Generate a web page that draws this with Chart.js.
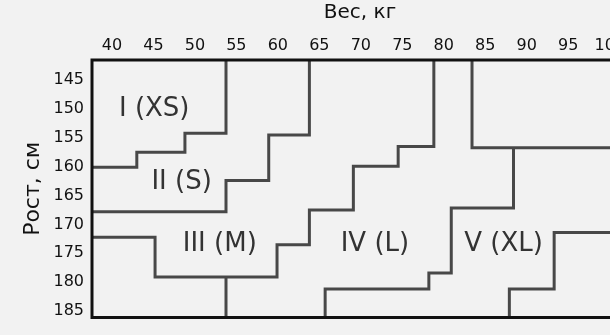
<!DOCTYPE html>
<html lang="ru">
<head>
<meta charset="utf-8">
<title>Рост и вес по размерам</title>
<script src="https://cdn.jsdelivr.net/npm/chart.js@4"></script>
<style>
  html, body { margin: 0; padding: 0; background: #f2f2f2; overflow: hidden; }
  #wrap { width: 640px; height: 335px; }
</style>
</head>
<body>
<div id="wrap"><canvas id="sizeChart" width="640" height="335"></canvas></div>
<script>
// оси: вес (кг) сверху, рост (см) слева
const weightTicks = [40, 45, 50, 55, 60, 65, 70, 75, 80, 85, 90, 95, 100];
const heightTicks = [145, 150, 155, 160, 165, 170, 175, 180, 185];
const weightRange = [37.6, 102.2];
const heightRange = [141.5, 186.1];

// граница I (XS) / II (S)
const xsS_w = [37.6, 43.0, 43.0, 48.8, 48.8, 53.75, 53.75];
const xsS_h = [160.1, 160.1, 157.5, 157.5, 154.2, 154.2, 141.5];

// граница II (S) / III (M)
const sM_w = [37.6, 53.75, 53.75, 58.9, 58.9, 63.8, 63.8];
const sM_h = [167.8, 167.8, 162.4, 162.4, 154.5, 154.5, 141.5];

// граница III (M) / IV (L)
const mL_w = [37.6, 45.2, 45.2, 59.9, 59.9, 63.8, 63.8, 69.1, 69.1, 74.5, 74.5, 78.8, 78.8];
const mL_h = [172.2, 172.2, 179.1, 179.1, 173.5, 173.5, 167.5, 167.5, 159.9, 159.9, 156.5, 156.5, 141.5];

// перегородка под III (M)
const mLow_w = [53.75, 53.75];
const mLow_h = [179.1, 186.1];

// граница IV (L) / V (XL)
const lXL_w = [65.7, 65.7, 78.2, 78.2, 80.9, 80.9, 88.4, 88.4];
const lXL_h = [186.1, 181.2, 181.2, 178.4, 178.4, 167.15, 167.15, 156.7];

// верхняя правая зона
const topRight_w = [83.4, 83.4, 102.2];
const topRight_h = [141.5, 156.7, 156.7];

// нижняя правая зона
const lowRight_w = [87.9, 87.9, 93.3, 93.3, 102.2];
const lowRight_h = [186.1, 181.2, 181.2, 171.4, 171.4];

// подписи зон
const zoneNames = ['I (XS)', 'II (S)', 'III (M)', 'IV (L)', 'V (XL)'];
const zoneWeight = [45.1, 48.4, 53.0, 71.7, 87.2];
const zoneHeight = [150.0, 162.6, 173.4, 173.5, 173.5];

Chart.defaults.font.family = '"DejaVu Sans", sans-serif';

// линия из двух массивов
function makeLine(w, h) {
    return {
        data: w.map((x, i) => ({ x: x, y: h[i] })),
        showLine: true,
        borderColor: '#484848',
        borderWidth: 3,
        pointRadius: 0,
        fill: false,
        tension: 0
    };
}

// рамка области графика: слева, сверху, снизу
const framePlugin = {
    id: 'frame',
    afterDatasetsDraw(chart) {
        const a = chart.chartArea;
        const ctx = chart.ctx;
        ctx.save();
        ctx.strokeStyle = '#111';
        ctx.lineWidth = 3;
        ctx.beginPath();
        ctx.moveTo(chart.width, a.top);
        ctx.lineTo(a.left, a.top);
        ctx.lineTo(a.left, a.bottom);
        ctx.lineTo(chart.width, a.bottom);
        ctx.stroke();
        ctx.restore();
    }
};

// подписи размеров внутри зон
const zonePlugin = {
    id: 'zones',
    afterDatasetsDraw(chart) {
        const ctx = chart.ctx;
        const xs = chart.scales.x;
        const ys = chart.scales.y;
        ctx.save();
        ctx.fillStyle = '#333';
        ctx.font = '26px "DejaVu Sans"';
        ctx.textAlign = 'center';
        ctx.textBaseline = 'middle';
        zoneNames.forEach((name, i) => {
            ctx.fillText(name, xs.getPixelForValue(zoneWeight[i]), ys.getPixelForValue(zoneHeight[i]));
        });
        ctx.restore();
    }
};

function initChart() {
    const canvas = document.getElementById('sizeChart');
    new Chart(canvas, {
        type: 'scatter',
        data: {
            datasets: [
                makeLine(xsS_w, xsS_h),
                makeLine(sM_w, sM_h),
                makeLine(mL_w, mL_h),
                makeLine(mLow_w, mLow_h),
                makeLine(lXL_w, lXL_h),
                makeLine(topRight_w, topRight_h),
                makeLine(lowRight_w, lowRight_h)
            ]
        },
        options: {
            responsive: false,
            animation: false,
            layout: { padding: { top: 0, left: 0, right: 12, bottom: 3 } },
            plugins: {
                legend: { display: false },
                tooltip: { enabled: false }
            },
            scales: {
                x: {
                    type: 'linear',
                    position: 'top',
                    min: weightRange[0],
                    max: weightRange[1],
                    grid: { display: false, drawTicks: false },
                    border: { display: false },
                    afterBuildTicks: (scale) => { scale.ticks = weightTicks.map(v => ({ value: v })); },
                    afterFit: (scale) => { scale.height = 60; },
                    ticks: { color: '#111', font: { size: 16 }, padding: 5, maxRotation: 0 },
                    title: { display: true, text: 'Вес, кг', color: '#111', font: { size: 20 }, padding: { top: 1, bottom: 0 } }
                },
                y: {
                    type: 'linear',
                    reverse: true,
                    min: heightRange[0],
                    max: heightRange[1],
                    grid: { display: false, drawTicks: false },
                    border: { display: false },
                    afterBuildTicks: (scale) => { scale.ticks = heightTicks.map(v => ({ value: v })); },
                    afterFit: (scale) => { scale.width = 92; },
                    ticks: { color: '#111', font: { size: 16 }, padding: 8 },
                    title: { display: true, text: 'Рост, см', color: '#111', font: { size: 22 }, padding: { top: 20, bottom: 0 } }
                }
            }
        },
        plugins: [framePlugin, zonePlugin]
    });
}

document.addEventListener('DOMContentLoaded', initChart);
</script>
</body>
</html>
